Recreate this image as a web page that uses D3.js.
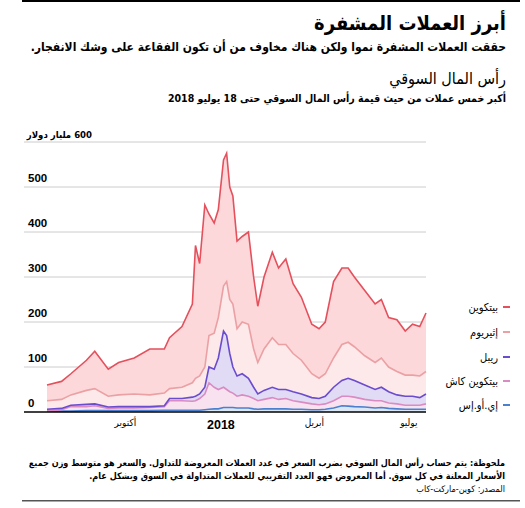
<!DOCTYPE html>
<html><head><meta charset="utf-8">
<script src="https://cdn.jsdelivr.net/npm/d3@7"></script>
<style>body{margin:0;background:#fff}svg{font-family:"Liberation Sans","DejaVu Sans",Arial,sans-serif}</style>
</head><body><svg id="c" width="525" height="508"></svg>
<script>
// Dates (approx. weekly) and the top of each stacked layer (billion USD)
const dates = ["2017-07-18","2017-08-01","2017-08-10","2017-08-25","2017-09-02","2017-09-15","2017-09-25","2017-10-10","2017-10-25","2017-11-08","2017-11-13","2017-11-25","2017-12-05","2017-12-08","2017-12-12","2017-12-17","2017-12-21","2017-12-26","2017-12-30","2018-01-04","2018-01-07","2018-01-10","2018-01-13","2018-01-17","2018-01-22","2018-01-28","2018-02-02","2018-02-06","2018-02-12","2018-02-20","2018-02-26","2018-03-05","2018-03-12","2018-03-20","2018-03-30","2018-04-06","2018-04-12","2018-04-20","2018-04-28","2018-05-04","2018-05-10","2018-05-20","2018-05-30","2018-06-05","2018-06-12","2018-06-20","2018-06-28","2018-07-05","2018-07-12","2018-07-18"];
const eosTop = [2,2,2,3,3,3,3,3,3,4,4,4,4,4,4,5,6,7,7,10,10,10,10,9,9,9,7,6,7,7,7,7,6,6,5,5,6,9,14,13,12,11,9,10,8,7,6,6,6,6];
const bchTop = [2,5,12,12,14,8,9,9,10,12,25,25,24,25,30,40,65,55,50,55,50,45,42,35,38,35,30,25,28,32,28,30,25,22,18,16,18,25,35,35,33,28,25,25,20,18,15,15,15,18];
const xrpTop = [6,8,15,17,18,11,12,12,12,14,30,30,33,35,40,55,100,95,120,180,170,130,100,80,85,75,55,40,48,55,50,50,45,40,32,30,35,55,70,75,70,60,50,55,45,38,35,35,32,40];
const ethTop = [25,28,38,48,52,35,38,40,38,42,52,55,65,75,80,100,170,175,210,280,290,250,240,185,200,195,140,110,140,165,150,150,130,115,85,75,85,120,150,155,145,125,110,120,100,90,82,82,80,90];
const btcTop = [60,68,85,115,135,95,110,120,140,140,165,190,240,370,330,460,440,420,450,560,575,500,480,380,390,400,300,235,300,355,320,340,285,255,195,185,200,290,320,320,300,270,240,250,210,205,180,195,190,220];
const yTicks = [0,100,200,300,400,500,600];
const xTickDates = ["2017-10-01","2018-01-01","2018-04-01","2018-07-01"];
const xTickLabels = ["أكتوبر","2018","أبريل","يوليو"];
const seriesNames = ["بيتكوين","إثيريوم","ريبل","بيتكوين كاش","إي.أو.إس"];
const lineColors = ["#e4505c","#eba0a3","#6a4ccf","#d98cc2","#4b80cf"];
const fillColors = ["#fcd8db","#fde8ea","#e2dbf5","#f8e2f0","#dce7f6"];

const svg = d3.select("#c");
const parse = d3.timeParse("%Y-%m-%d");
const D = dates.map(parse);
const x = d3.scaleTime().domain([D[0], D[D.length-1]]).range([47,426]);
const y = d3.scaleLinear().domain([0,600]).range([412,142]);

const T = (t,xx,yy,size,weight)=>svg.append("text").attr("x",xx).attr("y",yy).attr("direction","rtl").attr("text-anchor","start")
  .attr("font-family","'DejaVu Sans Condensed','DejaVu Sans',sans-serif")
  .attr("font-size",size).attr("font-weight",weight||"normal").attr("fill","#000").text(t);

svg.append("rect").attr("x",22).attr("y",0).attr("width",498).attr("height",2).attr("fill","#000");
T("أبرز العملات المشفرة",506,30,20,"bold");
T("حققت العملات المشفرة نموا ولكن هناك مخاوف من أن تكون الفقاعة على وشك الانفجار.",506,51,12,"bold");
T("رأس المال السوقي",506,84,16,"normal");
T("أكبر خمس عملات من حيث قيمة رأس المال السوقي حتى 18 يوليو 2018",506,102,10.5,"bold");

yTicks.forEach(v=>{
  if(v>0) svg.append("line").attr("x1",24).attr("x2",426).attr("y1",y(v)).attr("y2",y(v)).attr("stroke","#ccc").attr("stroke-width",1);
});
yTicks.forEach(v=>{
  if(v===600) T("600 مليار دولار",92,138,9.5,"bold");
  else svg.append("text").attr("x",28).attr("y",y(v)-5).attr("font-size",11.5).attr("font-weight","bold").text(v);
});

const layers = [btcTop, ethTop, xrpTop, bchTop, eosTop];
for(let i=0;i<5;i++){
  const top = layers[i], bot = i<4 ? layers[i+1] : null;
  const area = d3.area().x((d,j)=>x(D[j])).y0((d,j)=>bot? y(bot[j]) : y(0)).y1(d=>y(d));
  svg.append("path").datum(top).attr("d",area).attr("fill",fillColors[i]);
}
for(let i=4;i>=0;i--){
  const line = d3.line().x((d,j)=>x(D[j])).y(d=>y(d));
  svg.append("path").datum(layers[i]).attr("d",line).attr("fill","none").attr("stroke",lineColors[i]).attr("stroke-width",1.6);
}
svg.append("line").attr("x1",24).attr("x2",426).attr("y1",412).attr("y2",412).attr("stroke","#000").attr("stroke-width",1.5);

const xa = svg.append("g").attr("transform","translate(0,412)")
  .call(d3.axisBottom(x).tickValues(xTickDates.map(parse)).tickSize(0).tickFormat((d,i)=>xTickLabels[i]));
xa.select(".domain").remove();
xa.selectAll("text").attr("font-family","'Liberation Sans','DejaVu Sans Condensed'").attr("fill","#000").attr("dy","1.1em")
  .attr("font-weight",(d,i)=>i===1?"bold":"normal").style("font-size",(d,i)=>i===1?"12.5px":"10px");

const ly = [307,332,357,381,405];
seriesNames.forEach((n,i)=>{
  T(n,498,ly[i]+4,11,"normal");
  svg.append("line").attr("x1",503).attr("x2",510).attr("y1",ly[i]).attr("y2",ly[i]).attr("stroke",lineColors[i]).attr("stroke-width",2);
});

T("ملحوظة: يتم حساب رأس المال السوقي بضرب السعر في عدد العملات المعروضة للتداول. والسعر هو متوسط وزن جميع",505,466,9,"bold");
T("الأسعار المعلنة في كل سوق. أما المعروض فهو العدد التقريبي للعملات المتداولة في السوق وبشكل عام.",505,479,9,"bold");
T("المصدر: كوين-ماركت-كاب",505,492,9,"normal");
svg.append("rect").attr("x",22).attr("y",500).attr("width",498).attr("height",1.5).attr("fill","#555");
</script></body></html>
